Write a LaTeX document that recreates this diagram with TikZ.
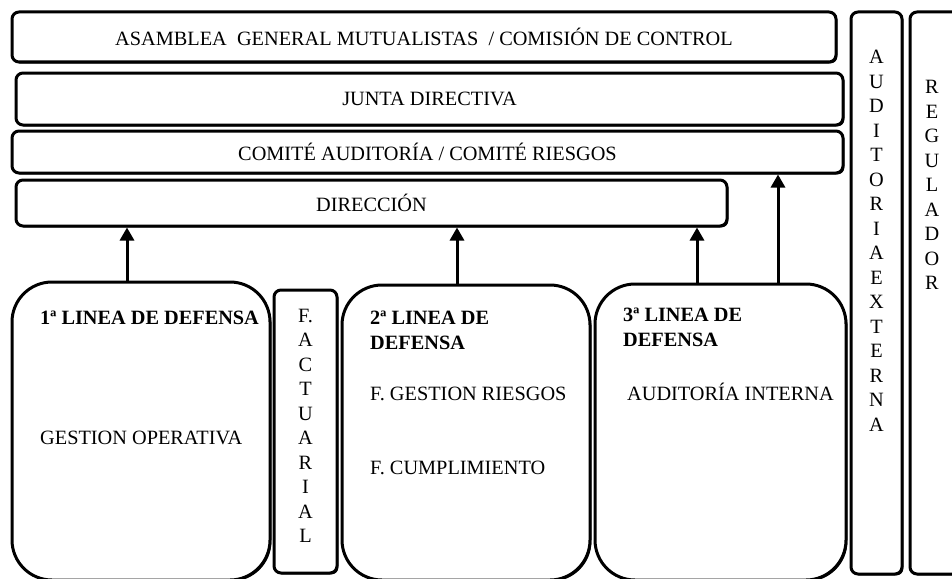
\documentclass[tikz,border=0pt]{standalone}
\usepackage{fontspec}
\setmainfont{Liberation Serif}
\usetikzlibrary{arrows.meta,shadows}
\def\txt{\fontsize{20.3}{24.5}\selectfont}
\tikzset{
  box/.style={draw,line width=3pt,rounded corners=7pt,inner sep=0pt,
    drop shadow={shadow xshift=1.4pt,shadow yshift=-1.4pt,opacity=1,fill=black},fill=white},
  bigbox/.style={box,rounded corners=40pt},
  col/.style={align=center,inner sep=0pt,font=\txt},
  lbl/.style={anchor=west,align=left,inner sep=0pt,font=\txt},
  up/.style={line width=3pt,-{Triangle[width=14pt,length=13pt]}}
}

\begin{document}
\begin{tikzpicture}[x=1pt,y=-1pt]
  \useasboundingbox (0,0) rectangle (952,578);
  \clip (0,0) rectangle (952,578);
  % bars
  \node[box,minimum width=824pt,minimum height=50pt,font=\txt] (asamblea) at (424,37)
    {ASAMBLEA\ \ GENERAL MUTUALISTAS\ \ / COMISIÓN DE CONTROL};
  \node[box,minimum width=827pt,minimum height=52pt,font=\txt] (junta) at (429.5,99) {JUNTA DIRECTIVA};
  \node[box,minimum width=831pt,minimum height=42pt,font=\txt] (comite) at (427.5,152)
    {COMITÉ AUDITORÍA / COMITÉ RIESGOS};
  \node[box,minimum width=711pt,minimum height=46pt,font=\txt] (dir) at (371.5,203) {DIRECCIÓN};
  % columns
  \node[box,minimum width=51pt,minimum height=562pt] (audext) at (876.5,293) {};
  \node[box,minimum width=60pt,minimum height=562pt] (regul) at (940,293) {};
  \node[col] (audextt) at (876.5,241) {A\\U\\D\\I\\T\\O\\R\\I\\A\\E\\X\\T\\E\\R\\N\\A};
  \node[col] (regult) at (932,185) {R\\E\\G\\U\\L\\A\\D\\O\\R};
  % lineas de defensa
  \node[bigbox,minimum width=258pt,minimum height=298pt] (l1) at (141,431) {};
  \node[box,minimum width=63pt,minimum height=283pt] (act) at (305.5,431.5) {};
  \node[col] (actt) at (305.5,426) {F.\\A\\C\\T\\U\\A\\R\\I\\A\\L};
  \node[bigbox,minimum width=248pt,minimum height=295pt] (l2) at (466,432.5) {};
  \node[bigbox,minimum width=251pt,minimum height=296pt] (l3) at (720.5,432) {};
  \node[lbl,font=\txt\bfseries] (l1a) at (40,318) {1ª LINEA DE DEFENSA};
  \node[lbl] (l1b) at (40,438) {GESTION OPERATIVA};
  \node[lbl,font=\txt\bfseries,anchor=north west] (l2a) at (370,311) {2ª LINEA DE\\DEFENSA};
  \node[lbl] (l2b) at (370,394) {F. GESTION RIESGOS};
  \node[lbl] (l2c) at (370,468) {F. CUMPLIMIENTO};
  \node[lbl,font=\txt\bfseries,anchor=north west] (l3a) at (623,308) {3ª LINEA DE\\DEFENSA};
  \node[lbl] (l3b) at (627,392) {AUDITORÍA INTERNA};
  % flechas
  \coordinate (a1) at (127,0);
  \coordinate (a2) at (457,0);
  \coordinate (a3) at (697,0);
  \coordinate (a4) at (778,0);
  \draw[up] (l1.north -| a1) -- (dir.south -| a1);
  \draw[up] (l2.north -| a2) -- (dir.south -| a2);
  \draw[up] (l3.north -| a3) -- (dir.south -| a3);
  \draw[up] (l3.north -| a4) -- (comite.south -| a4);
\end{tikzpicture}
\end{document}
